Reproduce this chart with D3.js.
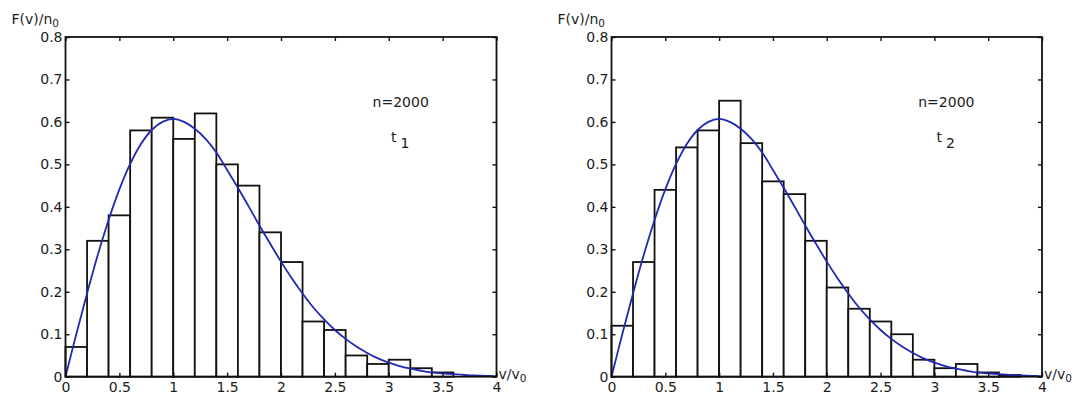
<!DOCTYPE html>
<html>
<head>
<meta charset="utf-8">
<script src="https://cdn.jsdelivr.net/npm/d3@7.9.0/dist/d3.min.js"></script>
<style>
  html, body { margin: 0; padding: 0; background: #fff; }
  svg text { font-family: "DejaVu Sans", sans-serif; fill: #1c1c1c; }
</style>
</head>
<body>
<svg id="chart" width="1074" height="394"></svg>
<script>
// histogram bins (left edge, width 0.2)
const binStarts = [0, 0.2, 0.4, 0.6, 0.8, 1.0, 1.2, 1.4, 1.6, 1.8, 2.0, 2.2, 2.4, 2.6, 2.8, 3.0, 3.2, 3.4, 3.6];
const binWidth = 0.2;

// F(v)/n0 per bin
const countsT1 = [0.07, 0.32, 0.38, 0.58, 0.61, 0.56, 0.62, 0.50, 0.45, 0.34, 0.27, 0.13, 0.11, 0.05, 0.03, 0.04, 0.02, 0.01];
const countsT2 = [0.12, 0.27, 0.44, 0.54, 0.58, 0.65, 0.55, 0.46, 0.43, 0.32, 0.21, 0.16, 0.13, 0.10, 0.04, 0.02, 0.03, 0.01, 0.004];

// blue reference curve, read at 0.1 steps
const curveV = [0, 0.1, 0.2, 0.3, 0.4, 0.5, 0.6, 0.7, 0.8, 0.9, 1.0, 1.1, 1.2, 1.3, 1.4, 1.5, 1.6, 1.7, 1.8, 1.9,
                2.0, 2.1, 2.2, 2.3, 2.4, 2.5, 2.6, 2.7, 2.8, 2.9, 3.0, 3.1, 3.2, 3.3, 3.4, 3.5, 3.6, 3.7, 3.8, 3.9, 4.0];
const curveF = [0, 0.100, 0.196, 0.287, 0.369, 0.441, 0.501, 0.548, 0.581, 0.600, 0.607, 0.600, 0.584, 0.560, 0.528, 0.487,
                0.445, 0.401, 0.356, 0.313, 0.271, 0.232, 0.196, 0.163, 0.135, 0.110, 0.089, 0.071, 0.056, 0.043, 0.033,
                0.025, 0.019, 0.014, 0.010, 0.008, 0.006, 0.004, 0.003, 0.002, 0.001];

const xTicks = [0, 0.5, 1, 1.5, 2, 2.5, 3, 3.5, 4];
const yTicks = [0, 0.1, 0.2, 0.3, 0.4, 0.5, 0.6, 0.7, 0.8];
const panelSubs = ["1", "2"];
const sampleLabel = "n=2000";

const svg = d3.select("#chart");
const plotTop = 37, plotBottom = 376.7;
const fontSize = 14;

const panels = [
  { x0: 65.5, x1: 496.5, counts: countsT1, sub: panelSubs[0] },
  { x0: 611.5, x1: 1042, counts: countsT2, sub: panelSubs[1] }
];

const curvePts = curveV.map((v, i) => [v, curveF[i]]);

panels.forEach(p => {
  const x = d3.scaleLinear().domain([0, 4]).range([p.x0, p.x1]);
  const y = d3.scaleLinear().domain([0, 0.8]).range([plotBottom, plotTop]);
  const g = svg.append("g");

  // bars
  g.selectAll("rect.bar")
    .data(p.counts)
    .enter()
    .append("rect")
    .attr("class", "bar")
    .attr("x", (d, i) => x(binStarts[i]))
    .attr("width", (d, i) => x(binStarts[i] + binWidth) - x(binStarts[i]))
    .attr("y", d => y(d))
    .attr("height", d => y(0) - y(d))
    .attr("fill", "#fff")
    .attr("stroke", "#111")
    .attr("stroke-width", 1.8);

  // reference curve
  const line = d3.line()
    .x(d => x(d[0]))
    .y(d => y(d[1]))
    .curve(d3.curveCatmullRom);

  g.append("path")
    .datum(curvePts)
    .attr("fill", "none")
    .attr("stroke", "#2228b0")
    .attr("stroke-width", 1.8)
    .attr("d", line);

  // axes, ticks pointing inward
  const xb = g.append("g").attr("transform", `translate(0,${plotBottom})`)
    .call(d3.axisBottom(x).tickValues(xTicks).tickSize(-4).tickPadding(5.5).tickFormat(d3.format("")));
  const xt = g.append("g").attr("transform", `translate(0,${plotTop})`)
    .call(d3.axisTop(x).tickValues(xTicks).tickSize(-4).tickFormat(""));
  const yl = g.append("g").attr("transform", `translate(${p.x0},0)`)
    .call(d3.axisLeft(y).tickValues(yTicks).tickSize(-4).tickPadding(3).tickFormat(d3.format("")));
  const yr = g.append("g").attr("transform", `translate(${p.x1},0)`)
    .call(d3.axisRight(y).tickValues(yTicks).tickSize(-4).tickFormat(""));

  [xb, xt, yl, yr].forEach(a => {
    a.select(".domain").remove();
    a.selectAll(".tick line").attr("stroke", "#111").attr("stroke-width", 1.4);
    a.selectAll(".tick text").attr("font-size", fontSize).attr("fill", "#1c1c1c")
      .style("font-family", "'DejaVu Sans', sans-serif");
  });

  // frame
  g.append("rect")
    .attr("x", p.x0).attr("y", plotTop)
    .attr("width", p.x1 - p.x0).attr("height", plotBottom - plotTop)
    .attr("fill", "none").attr("stroke", "#111").attr("stroke-width", 1.8);

  // y label
  const yt = g.append("text")
    .attr("x", p.x0 - 54).attr("y", 23.5)
    .attr("font-size", fontSize);
  yt.append("tspan").text("F(v)/n");
  yt.append("tspan").attr("font-size", 10.5).attr("dy", 3).text("0");

  // x label
  const xlab = g.append("text")
    .attr("x", p.x1 + 2).attr("y", 379)
    .attr("font-size", fontSize);
  xlab.append("tspan").text("v/v");
  xlab.append("tspan").attr("font-size", 10.5).attr("dy", 2.5).text("0");

  // annotations
  g.append("text")
    .attr("x", x(2.85)).attr("y", y(0.635))
    .attr("font-size", fontSize)
    .text(sampleLabel);

  const tt = g.append("text")
    .attr("x", x(3.02)).attr("y", y(0.553))
    .attr("font-size", fontSize);
  tt.append("tspan").text("t");
  tt.append("tspan").attr("dx", 4).attr("dy", 6.6).text(p.sub);
});
</script>
</body>
</html>
